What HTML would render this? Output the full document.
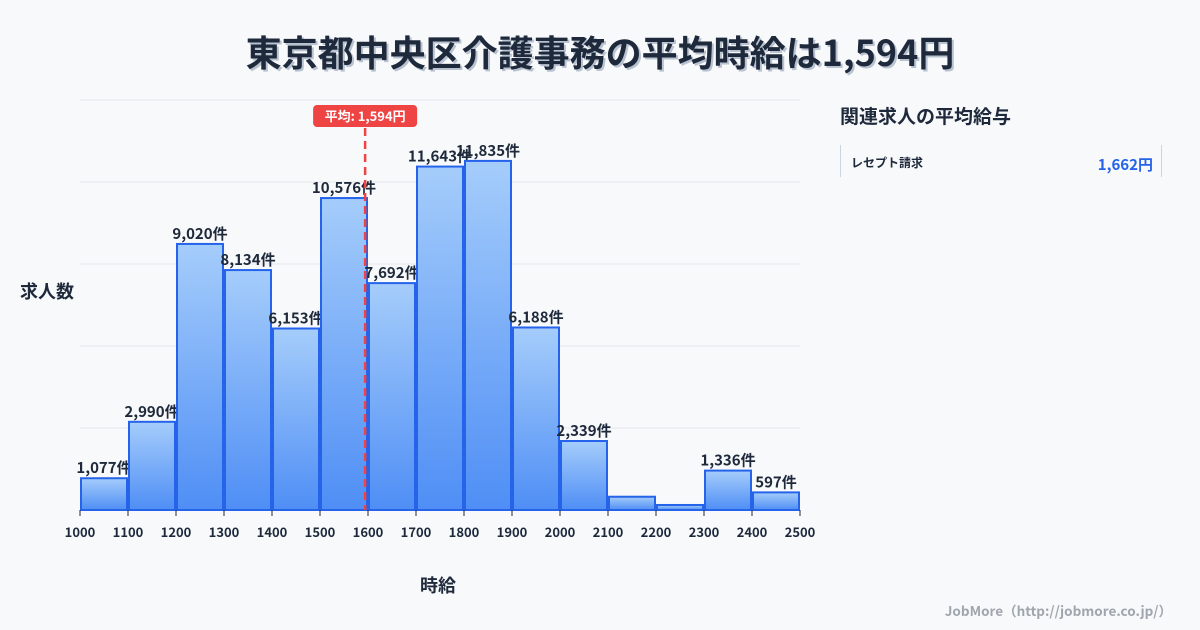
<!DOCTYPE html>
<html><head><meta charset="utf-8">
<style>
body{margin:0;width:1200px;height:630px;background:#f8f9fb;font-family:"Noto Sans CJK JP","Liberation Sans",sans-serif;overflow:hidden;position:relative}
.t{position:absolute;font-weight:700;line-height:1}
svg text{font-family:"Noto Sans CJK JP","Liberation Sans",sans-serif}
</style></head>
<body>
<div class="t" style="left:0;width:1200px;top:33px;text-align:center;font-size:36px;color:#1e293b;text-shadow:2px 2px 0 #b8c2d0">東京都中央区介護事務の平均時給は1,594円</div>
<div class="t" style="left:20px;top:282px;font-size:18px;color:#1e293b">求人数</div>
<div class="t" style="left:420px;top:576px;font-size:18px;color:#1e293b">時給</div>
<div class="t" style="left:840px;top:106px;font-size:19px;color:#1e293b">関連求人の平均給与</div>
<div style="position:absolute;left:840px;top:145px;width:320px;height:32px;border-left:1px solid #cbd5e1;border-right:1px solid #cbd5e1">
<span class="t" style="left:10px;top:12px;font-size:12px;color:#1e293b">レセプト請求</span>
<span class="t" style="right:8px;top:12px;font-size:15px;color:#2563eb">1,662円</span>
</div>
<div class="t" style="right:28px;top:604px;font-size:13.5px;color:#a0a6ae">JobMore（http://jobmore.co.jp/）</div>
<svg id="c" width="1200" height="630" style="position:absolute;left:0;top:0">
<defs><linearGradient id="g" x1="0" y1="0" x2="0" y2="1"><stop offset="0" stop-color="#a5cdfb"/><stop offset="1" stop-color="#4f8ef5"/></linearGradient></defs>
</svg>
<script>
const binStarts=[1000,1100,1200,1300,1400,1500,1600,1700,1800,1900,2000,2100,2200,2300,2400];
const counts=[1077,2990,9020,8134,6153,10576,7692,11643,11835,6188,2339,450,170,1336,597];
const showLabel=[1,1,1,1,1,1,1,1,1,1,1,0,0,1,1];
const xTicks=[1000,1100,1200,1300,1400,1500,1600,1700,1800,1900,2000,2100,2200,2300,2400,2500];
const avgWage=1594;
const yMax=13900;
const x=v=>80+(v-1000)*720/1500;
const y=v=>510-v*410/yMax;
const s=document.getElementById('c');const N='http://www.w3.org/2000/svg';
function el(t,a){const e=document.createElementNS(N,t);for(const k in a)e.setAttribute(k,a[k]);s.appendChild(e);return e;}
for(let i=0;i<=5;i++){const l=el('line',{x1:80,x2:800,y1:100+i*82,y2:100+i*82,stroke:'#e5e7eb'});

}
binStarts.forEach((b,i)=>{const x0=x(b)+1,x1=x(b+100)-1,yt=y(counts[i]);
const r=el('rect',{x:x0,y:yt,width:x1-x0,height:510-yt,fill:'url(#g)',stroke:'#2563eb','stroke-width':2});


if(showLabel[i]){const t=el('text',{x:(x0+x1)/2,y:yt-5,'text-anchor':'middle','font-size':15,'font-weight':700,fill:'#1e293b'});t.textContent=counts[i].toLocaleString('en-US')+'件';

}});
xTicks.forEach(v=>{const l=el('line',{x1:x(v),x2:x(v),y1:510,y2:516,stroke:'#1e293b'});


const t=el('text',{x:x(v),y:537,'text-anchor':'middle','font-size':13,'font-weight':700,fill:'#1e293b'});t.textContent=v;

});
const ax=x(avgWage);
const al=el('line',{x1:ax,x2:ax,y1:128,y2:510,stroke:'#ef4444','stroke-width':2.5,'stroke-dasharray':'8,5'});


const ab=el('rect',{x:ax-52,y:105,width:104,height:22,rx:4,fill:'#ef4444'});


const at=el('text',{x:ax,y:121,'text-anchor':'middle','font-size':13,'font-weight':700,fill:'#fff'});at.textContent='平均: '+avgWage.toLocaleString('en-US')+'円';


</script>
</body></html>
